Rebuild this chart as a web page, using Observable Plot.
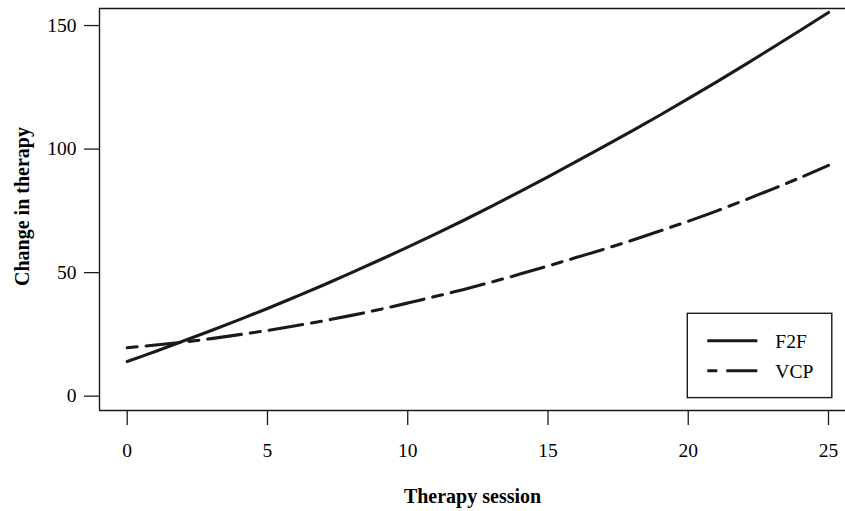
<!DOCTYPE html>
<html><head><meta charset="utf-8">
<script src="https://cdn.jsdelivr.net/npm/d3@7"></script>
<script src="https://cdn.jsdelivr.net/npm/@observablehq/plot@0.6"></script>
<style>
body{margin:0;background:#fff;}
#wrap{position:relative;width:845px;height:511px;overflow:hidden;}
#legend{position:absolute;left:0;top:0;}
</style></head><body><div id="wrap"></div>
<script>
const sessions = [0,1,2,3,4,5,6,7,8,9,10,11,12,13,14,15,16,17,18,19,20,21,22,23,24,25];
const f2f = [14.0,18.1,22.3,26.6,31.0,35.5,40.2,45.0,50.0,55.1,60.3,65.7,71.2,76.9,82.8,88.8,94.9,101.1,107.4,113.8,120.4,127.1,134.0,141.0,148.1,155.3];
const vcp = [19.6,20.7,21.9,23.3,24.9,26.6,28.5,30.5,32.7,35.1,37.7,40.4,43.2,46.2,49.4,52.7,56.1,59.5,63.1,66.9,70.8,74.9,79.3,83.8,88.5,93.4];
const seriesNames = ["F2F","VCP"];
const seriesDash = ["none","10,9,34,9"];
const xTicks = [0,5,10,15,20,25];
const yTicks = [0,50,100,150];
const xTitle = "Therapy session";
const yTitle = "Change in therapy";

const xDomain = [-0.988, 25.606];
const yDomain = [-5.8, 156.9];
const ink = "#1a1a1a";
const font = "'Liberation Serif', 'Times New Roman', serif";

const rows = (vals, name) => sessions.map((s, i) => ({session: s, value: vals[i], series: name}));
const dataF = rows(f2f, seriesNames[0]);
const dataV = rows(vcp, seriesNames[1]);

const plot = Plot.plot({
  width: 845, height: 511,
  marginLeft: 99, marginRight: 0, marginTop: 8, marginBottom: 101,
  style: {fontFamily: font, fontSize: "19px", color: "#000", background: "#fff", overflow: "visible"},
  x: {domain: xDomain},
  y: {domain: yDomain},
  marks: [
    Plot.axisX(xTicks, {tickSize: 15, tickPadding: 18, label: null, fontSize: 19.5, stroke: ink, strokeWidth: 1.3}),
    Plot.axisY(yTicks, {tickSize: 15, tickPadding: 8, label: null, fontSize: 19.5, stroke: ink, strokeWidth: 1.3}),
    Plot.ruleX([xDomain[0]], {stroke: ink, strokeWidth: 1.4}),
    Plot.ruleY([yDomain[0], yDomain[1]], {stroke: ink, strokeWidth: 1.4}),
    Plot.line(dataF, {x: "session", y: "value", stroke: ink, strokeWidth: 3.1, curve: "catmull-rom"}),
    Plot.line(dataV, {x: "session", y: "value", stroke: ink, strokeWidth: 3.1, curve: "catmull-rom", strokeDasharray: seriesDash[1]}),
    Plot.text([xTitle], {frameAnchor: "bottom", textAnchor: "middle", lineAnchor: "middle", dy: 86, fontWeight: "bold", fontSize: 20, fill: "#000"}),
    Plot.text([yTitle], {frameAnchor: "left", textAnchor: "middle", lineAnchor: "middle", rotate: -90, dx: -77, dy: -3, fontWeight: "bold", fontSize: 20, fill: "#000"})
  ]
});
const wrap = document.getElementById("wrap");
wrap.appendChild(plot);

// legend overlay (inside plot area, lower right)
const lg = d3.select(wrap).append("svg").attr("id", "legend").attr("width", 845).attr("height", 511);
const bx = 687.3, by = 313.3, bw = 144.5, bh = 84.3;
lg.append("rect").attr("x", bx).attr("y", by).attr("width", bw).attr("height", bh)
  .attr("fill", "#fff").attr("stroke", ink).attr("stroke-width", 1.4);
seriesNames.forEach((name, i) => {
  const yy = by + 27.4 + i * 30;
  lg.append("line").attr("x1", bx + 20).attr("x2", bx + 70).attr("y1", yy).attr("y2", yy)
    .attr("stroke", ink).attr("stroke-width", 3.1)
    .attr("stroke-dasharray", seriesDash[i] === "none" ? null : seriesDash[i]);
  lg.append("text").attr("x", bx + 88).attr("y", yy).attr("dy", "0.35em")
    .attr("font-family", font).attr("font-size", 19.5).attr("fill", "#000").text(name);
});
</script></body></html>
